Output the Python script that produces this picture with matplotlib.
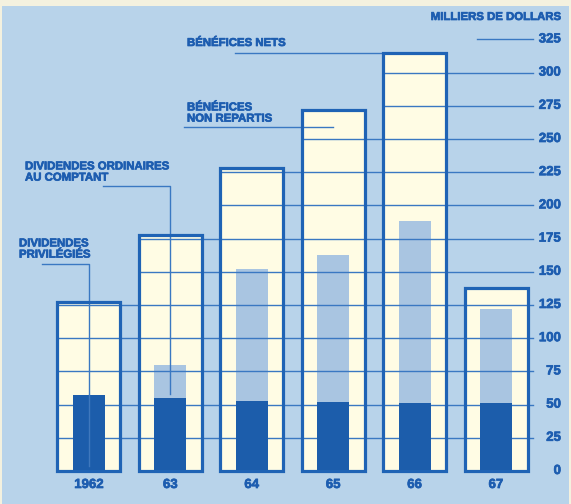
import matplotlib.pyplot as plt
import matplotlib.patheffects as pe
import numpy as np

# Bénéfices et dividendes, milliers de dollars
years = ['1962', '63', '64', '65', '66', '67']
net_profit = [127, 178, 228, 272, 315, 138]      # bénéfices nets
common_div = [0, 80, 152, 163, 188, 122]         # dividendes ordinaires (cumulés)
preferred_div = [57, 55, 53, 52, 51, 51]         # dividendes privilégiés
ticks = list(range(0, 326, 25))

W, H = 571, 504
BG = '#b8d3ea'
CREAM = '#fffce4'
DARK = '#1c5dab'
LIGHT = '#a9c5e1'
EDGE = '#1f63b5'
LINE = '#3a78c2'
TEXT = '#1d5db0'

# pixel layout of the original
X0, DX = 89, 81.4        # centre of first bar, spacing between bars
Y0, DY = 471, 1.328      # pixel row of zero, pixels per thousand
BOX_W = 63 / DX
IN_W = 32 / DX


def dx(p):
    return (p - X0) / DX


def dy(p):
    return (Y0 - p) / DY


plt.rcParams['font.family'] = ['Liberation Sans', 'DejaVu Sans']
plt.rcParams['font.weight'] = 'bold'
heavy = [pe.withStroke(linewidth=0.5, foreground=TEXT)]

fig = plt.figure(figsize=(W / 100, H / 100), dpi=100, facecolor='#f4f1df')
ax = fig.add_axes([2 / W, 0, 567 / W, 498 / H])
ax.set_xlim(dx(2), dx(569))
ax.set_ylim(dy(504), dy(6))
ax.axis('off')
ax.add_patch(plt.Rectangle((0, 0), 1, 1, transform=ax.transAxes,
                           color=BG, zorder=0))

x = np.arange(len(years))

ax.bar(x, net_profit, width=BOX_W, color=CREAM, zorder=1)
ax.bar(x, common_div, width=IN_W, color=LIGHT, zorder=2)
ax.bar(x, preferred_div, width=IN_W, color=DARK, zorder=4)

# horizontal rules start at the first box tall enough
for t in ticks:
    if t > 0:
        reach = [i for i, v in enumerate(net_profit) if v >= t]
        start = x[reach[0]] - BOX_W / 2 if reach else dx(477)
        ax.plot([start, dx(533)], [t, t], color=LINE, lw=1.0, zorder=3)
    ax.text(dx(561), t, str(t), ha='right', va='center', color=TEXT,
            fontsize=9.5, path_effects=heavy)

ax.bar(x, net_profit, width=BOX_W, fill=False, edgecolor=EDGE, lw=2.3, zorder=6)

for i, y in enumerate(years):
    ax.text(i, dy(485), y, ha='center', va='center', color=TEXT,
            fontsize=9.5, path_effects=heavy)

ax.text(dx(561), dy(17), 'MILLIERS DE DOLLARS', ha='right', va='center',
        color=TEXT, fontsize=8.2, path_effects=heavy)

# legend labels with leader lines
ax.text(dx(187), dy(43), 'BÉNÉFICES NETS', ha='left', va='center',
        color=TEXT, fontsize=8.2, path_effects=heavy)
ax.plot([dx(235), 4 - BOX_W / 2], [net_profit[4], net_profit[4]],
        color=LINE, lw=1.0, zorder=3)

ax.text(dx(187), dy(113), 'BÉNÉFICES\nNON REPARTIS', ha='left', va='center',
        color=TEXT, fontsize=8.2, linespacing=1.15, path_effects=heavy)
ax.plot([dx(184), 3], [dy(127), dy(127)], color=LINE, lw=1.0, zorder=3)

ax.text(dx(25), dy(172), 'DIVIDENDES ORDINAIRES\nAU COMPTANT', ha='left',
        va='center', color=TEXT, fontsize=8.2, linespacing=1.15, path_effects=heavy)
ax.plot([dx(103), 1, 1], [dy(186), dy(186), preferred_div[1] + 3],
        color=LINE, lw=1.0, zorder=3)

ax.text(dx(19), dy(249), 'DIVIDENDES\nPRIVILÉGIÉS', ha='left', va='center',
        color=TEXT, fontsize=8.2, linespacing=1.15, path_effects=heavy)
ax.plot([dx(42), 0, 0], [dy(264), dy(264), preferred_div[0]],
        color=LINE, lw=1.0, zorder=3)
ax.plot([0, 0], [preferred_div[0], 4], color='#3f78bd', lw=1.0, zorder=5)

fig.savefig('out.png', dpi=100, facecolor=fig.get_facecolor())
